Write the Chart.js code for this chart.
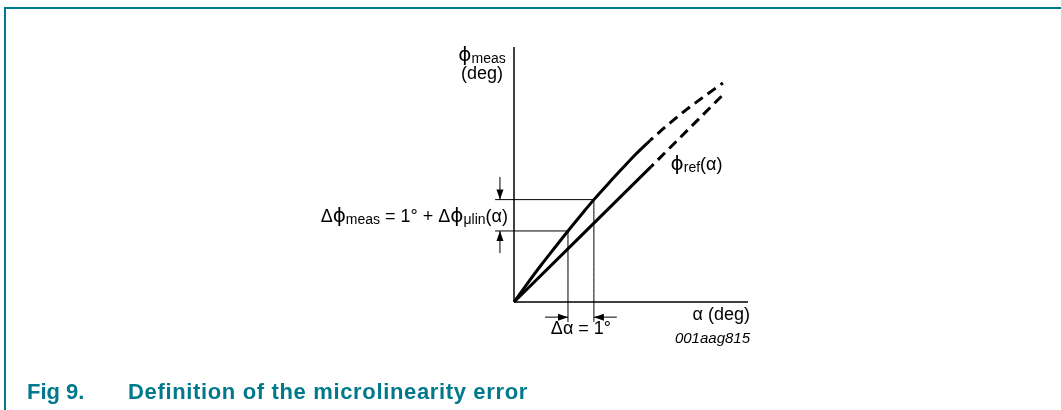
<!DOCTYPE html>
<html lang="en">
<head>
    <meta charset="UTF-8">
    <script src="https://cdn.jsdelivr.net/npm/chart.js"></script>
    <title>Fig 9. Definition of the microlinearity error</title>
    <style>
        body {
            margin: 0;
            background: #ffffff;
            font-family: "Liberation Sans", Arial, sans-serif;
        }
        .frame {
            position: absolute;
            left: 4px;
            top: 7px;
            width: 1057px;
            height: 403px;
            border-top: 2px solid #00798c;
            border-left: 2px solid #00798c;
        }
        .chart-box {
            position: absolute;
            left: 0;
            top: 0;
            width: 1061px;
            height: 410px;
        }
        .caption {
            position: absolute;
            left: 27px;
            top: 379px;
            font-size: 22px;
            font-weight: bold;
            color: #00798c;
            white-space: nowrap;
        }
        .caption span {
            display: inline-block;
            width: 101px;
        }
        .caption em {
            font-style: normal;
            letter-spacing: 0.65px;
        }
    </style>
</head>
<body>
    <div class="frame"></div>
    <div class="chart-box">
        <canvas id="chart"></canvas>
    </div>
    <div class="caption"><span>Fig 9.</span><em>Definition of the microlinearity error</em></div>

    <script>
        // axis extents (alpha in deg, phi in deg)
        const alphaMax = 8.67;
        const phiMax = 9.44;

        // measured curve, solid part and dashed continuation
        const measAlpha = [0, 0.5, 1, 1.5, 2, 2.5, 2.96, 3.5, 4, 4.5, 5.04];
        const measPhi = [0, 0.69, 1.36, 2.0, 2.63, 3.24, 3.79, 4.39, 4.93, 5.46, 5.98];
        const measDashAlpha = [5.04, 5.7, 6.4, 7.1, 7.74];
        const measDashPhi = [5.98, 6.56, 7.13, 7.65, 8.11];

        // reference line
        const refAlpha = [0, 5.07];
        const refPhi = [0, 5.0];
        const refDashAlpha = [5.07, 7.74];
        const refDashPhi = [5.0, 7.67];

        // the two alpha positions 1 deg apart and their measured values
        const stepAlpha = [2, 2.96];
        const stepPhi = [2.63, 3.79];
        const guideLow = -0.74;   // vertical guides drop below the axis
        const guideLeft = -0.70;  // horizontal guides reach left of the axis

        // arrows [fromAlpha, fromPhi, toAlpha, toPhi]
        const arrows = [
            [-0.52, 4.63, -0.52, 3.79],
            [-0.52, 1.81, -0.52, 2.63],
            [1.15, -0.56, 2, -0.56],
            [3.81, -0.56, 2.96, -0.56]
        ];

        const pts = (xs, ys) => xs.map((x, i) => ({ x: x, y: ys[i] }));

        function line(data, width, dash) {
            return {
                data: data,
                borderColor: '#000',
                borderWidth: width,
                borderDash: dash || [],
                borderDashOffset: dash ? 6 : 0,
                pointRadius: 0,
                fill: false,
                clip: false,
                tension: 0.4,
                cubicInterpolationMode: 'monotone'
            };
        }

        const datasets = [
            line([{ x: 0, y: 0 }, { x: alphaMax, y: 0 }], 1.5),
            line([{ x: 0, y: 0 }, { x: 0, y: phiMax }], 1.5),
            line(pts(measAlpha, measPhi), 3),
            line(pts(measDashAlpha, measDashPhi), 3, [10, 6]),
            line(pts(refAlpha, refPhi), 3),
            line(pts(refDashAlpha, refDashPhi), 3, [10, 6])
        ];
        stepAlpha.forEach((a, i) => {
            datasets.push(line([{ x: a, y: guideLow }, { x: a, y: stepPhi[i] }], 1));
            datasets.push(line([{ x: guideLeft, y: stepPhi[i] }, { x: a, y: stepPhi[i] }], 1));
        });

        const FONT = "'Liberation Sans', Arial, 'DejaVu Sans', sans-serif";

        // draws text made of normal, subscript and symbol parts
        function rich(ctx, parts, x, y, align) {
            const fontOf = p => (p.sub ? '14px ' : p.sym ? '20px ' : '18px ') + (p.sym ? "'DejaVu Sans', sans-serif" : FONT);
            let w = 0;
            parts.forEach(p => { ctx.font = fontOf(p); w += ctx.measureText(p.t).width; });
            let cx = align === 'right' ? x - w : align === 'center' ? x - w / 2 : x;
            ctx.textAlign = 'left';
            ctx.textBaseline = 'alphabetic';
            parts.forEach(p => {
                ctx.font = fontOf(p);
                ctx.fillText(p.t, cx, y + (p.sub ? 2 : 0));
                cx += ctx.measureText(p.t).width;
            });
        }

        const annotations = {
            id: 'annotations',
            afterDatasetsDraw(chart) {
                const ctx = chart.ctx;
                const xs = chart.scales.x, ys = chart.scales.y;
                const X = v => xs.getPixelForValue(v);
                const Y = v => ys.getPixelForValue(v);
                ctx.save();
                ctx.fillStyle = '#000';
                ctx.strokeStyle = '#000';
                ctx.lineWidth = 1;

                arrows.forEach(a => {
                    const x0 = X(a[0]), y0 = Y(a[1]), x1 = X(a[2]), y1 = Y(a[3]);
                    const ang = Math.atan2(y1 - y0, x1 - x0);
                    const c = Math.cos(ang), s = Math.sin(ang);
                    ctx.beginPath();
                    ctx.moveTo(x0, y0);
                    ctx.lineTo(x1, y1);
                    ctx.stroke();
                    ctx.beginPath();
                    ctx.moveTo(x1, y1);
                    ctx.lineTo(x1 - 10 * c - 3.5 * s, y1 - 10 * s + 3.5 * c);
                    ctx.lineTo(x1 - 10 * c + 3.5 * s, y1 - 10 * s - 3.5 * c);
                    ctx.closePath();
                    ctx.fill();
                });

                const ox = X(0), oy = Y(0), top = Y(phiMax), right = X(alphaMax);
                rich(ctx, [{ t: 'ϕ', sym: true }, { t: 'meas', sub: true }], ox - 32, top + 14, 'center');
                rich(ctx, [{ t: '(deg)' }], ox - 32, top + 32, 'center');
                rich(ctx, [{ t: 'ϕ', sym: true }, { t: 'ref', sub: true }, { t: '(α)' }], X(5.8), Y(4.9), 'left');
                rich(ctx, [{ t: 'Δ' }, { t: 'ϕ', sym: true }, { t: 'meas', sub: true }, { t: ' = 1° + Δ' }, { t: 'ϕ', sym: true }, { t: 'μlin', sub: true }, { t: '(α)' }],
                    ox - 6, (Y(stepPhi[0]) + Y(stepPhi[1])) / 2 + 7, 'right');
                rich(ctx, [{ t: 'α (deg)' }], right + 2, oy + 18, 'right');
                rich(ctx, [{ t: 'Δα = 1°' }], (X(stepAlpha[0]) + X(stepAlpha[1])) / 2, oy + 32, 'center');

                ctx.font = 'italic 15px ' + FONT;
                ctx.textAlign = 'right';
                ctx.fillText('001aag815', right + 2, oy + 41);
                ctx.restore();
            }
        };

        new Chart(document.getElementById('chart'), {
            type: 'line',
            data: { datasets: datasets },
            options: {
                responsive: true,
                maintainAspectRatio: false,
                animation: false,
                layout: { padding: { left: 514, right: 313, top: 47, bottom: 108 } },
                scales: {
                    x: { type: 'linear', display: false, min: 0, max: alphaMax },
                    y: { type: 'linear', display: false, min: 0, max: phiMax }
                },
                plugins: {
                    legend: { display: false },
                    tooltip: { enabled: false }
                }
            },
            plugins: [annotations]
        });
    </script>
</body>
</html>
